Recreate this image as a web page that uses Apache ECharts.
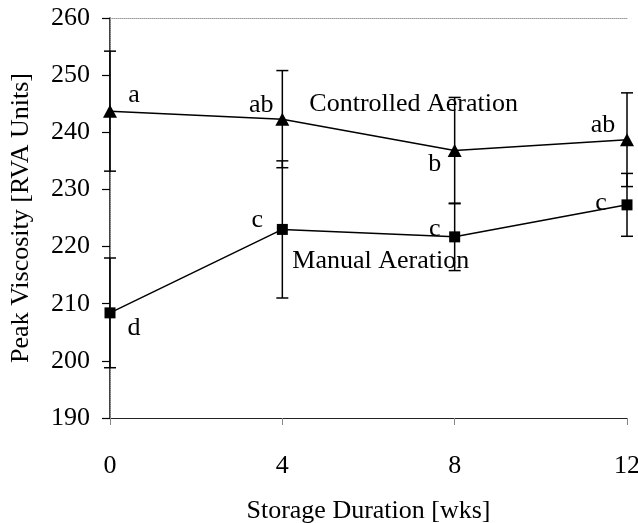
<!DOCTYPE html>
<html>
<head>
<meta charset="utf-8">
<script src="https://cdn.jsdelivr.net/npm/echarts@6/dist/echarts.min.js"></script>
<style>html,body{margin:0;padding:0;background:#fff}#c{width:638px;height:523px}</style>
</head>
<body>
<div id="c"></div>
<script>
// ---- data ----
const weeks = [0, 4, 8, 12];
const controlledMean = [243.7, 242.3, 236.8, 238.7];
const controlledErr = [10.5, 8.5, 9.3, 8.2];
const controlledLetters = ['a', 'ab', 'b', 'ab'];
const manualMean = [208.4, 223.0, 221.7, 227.3];
const manualErr = [9.6, 12.0, 5.9, 5.5];
const manualLetters = ['d', 'c', 'c', 'c'];
const yTicks = [190, 200, 210, 220, 230, 240, 250, 260];
const xTicks = [0, 4, 8, 12];

// ---- styling ----
const FONT = '"Liberation Serif", "Times New Roman", serif';
const FS = 26;
// label offsets [dx, dy] in pixels
const controlledLabelOffsets = [[24, -16], [-21, -14], [-20, 14], [-24, -15]];
const manualLabelOffsets = [[24, 15], [-25, -9], [-20, -8], [-26, -2]];

const chart = echarts.init(document.getElementById('c'), null, {renderer: 'canvas'});

function pairs(xs, ys) { return xs.map((x, i) => [x, ys[i]]); }
function errData(xs, m, e) { return xs.map((x, i) => [x, m[i] - e[i], m[i] + e[i]]); }

function errSeries(data) {
  return {
    type: 'custom',
    data: data,
    z: 3,
    renderItem: function (params, api) {
      const x = api.value(0);
      const lo = api.coord([x, api.value(1)]);
      const hi = api.coord([x, api.value(2)]);
      const hw = 6;
      const style = {stroke: '#000', lineWidth: 1.5};
      return {
        type: 'group',
        children: [
          {type: 'line', shape: {x1: lo[0], y1: lo[1], x2: hi[0], y2: hi[1]}, style: style},
          {type: 'line', shape: {x1: lo[0] - hw, y1: lo[1], x2: lo[0] + hw, y2: lo[1]}, style: style},
          {type: 'line', shape: {x1: hi[0] - hw, y1: hi[1], x2: hi[0] + hw, y2: hi[1]}, style: style}
        ]
      };
    }
  };
}

function letterSeries(xs, ys, letters, offsets) {
  return {
    type: 'scatter',
    symbol: 'circle',
    symbolSize: 0,
    itemStyle: {color: '#000', opacity: 1},
    silent: true,
    z: 5,
    data: xs.map((x, i) => ({
      value: [x, ys[i]],
      label: {
        show: true,
        formatter: letters[i],
        position: 'inside',
        offset: offsets[i],
        color: '#000',
        opacity: 1,
        fontFamily: FONT,
        fontSize: FS
      }
    }))
  };
}

const option = {
  animation: false,
  backgroundColor: '#fff',
  grid: {left: 110, right: 11, top: 18, bottom: 105, show: false, containLabel: false, outerBoundsMode: 'none'},
  xAxis: [{
    type: 'value', min: 0, max: 12, interval: 4,
    name: 'Storage Duration [wks]',
    nameLocation: 'middle', nameGap: 80,
    nameTextStyle: {fontFamily: FONT, fontSize: FS, color: '#000'},
    axisLine: {show: true, lineStyle: {color: '#222', width: 1.2}},
    axisTick: {show: true, inside: false, length: 7, lineStyle: {color: '#888'}},
    axisLabel: {margin: 35, fontFamily: FONT, fontSize: FS, color: '#000',
      formatter: v => xTicks.includes(v) ? String(v) : ''},
    splitLine: {show: false}
  }, {
    type: 'value', min: 0, max: 12, position: 'top',
    axisLine: {show: true, lineStyle: {color: '#999', width: 1, type: 'dotted'}},
    axisTick: {show: false}, axisLabel: {show: false}, splitLine: {show: false}
  }],
  yAxis: [{
    type: 'value', min: 190, max: 260, interval: 10,
    name: 'Peak Viscosity [RVA Units]',
    nameLocation: 'middle', nameGap: 76,
    nameTextStyle: {fontFamily: FONT, fontSize: FS, color: '#000'},
    axisLine: {show: true, lineStyle: {color: '#000', width: 1.5}},
    axisTick: {show: true, inside: false, length: 8, lineStyle: {color: '#000', width: 1.2}},
    axisLabel: {margin: 20, fontFamily: FONT, fontSize: FS, color: '#000',
      formatter: v => yTicks.includes(v) ? String(v) : ''},
    splitLine: {show: false}
  }, {
    type: 'value', min: 190, max: 260, position: 'right',
    axisLine: {show: true, lineStyle: {color: '#999', width: 1, type: 'dotted'}},
    axisTick: {show: false}, axisLabel: {show: false}, splitLine: {show: false}
  }],
  graphic: [],
  series: [
    errSeries(errData(weeks, controlledMean, controlledErr)),
    errSeries(errData(weeks, manualMean, manualErr)),
    {
      name: 'Controlled Aeration', type: 'line', data: pairs(weeks, controlledMean),
      symbol: 'triangle', symbolSize: [14, 13],
      lineStyle: {color: '#000', width: 1.5}, itemStyle: {color: '#000'}, z: 4
    },
    {
      name: 'Manual Aeration', type: 'line', data: pairs(weeks, manualMean),
      symbol: 'rect', symbolSize: 11,
      lineStyle: {color: '#000', width: 1.5}, itemStyle: {color: '#000'}, z: 4
    },
    letterSeries(weeks, controlledMean, controlledLetters, controlledLabelOffsets),
    letterSeries(weeks, manualMean, manualLetters, manualLabelOffsets)
  ]
};
chart.setOption(option);

// Series name annotations placed next to the lines
const cPos = chart.convertToPixel({xAxisIndex: 0, yAxisIndex: 0}, [weeks[1], controlledMean[1]]);
const mPos = chart.convertToPixel({xAxisIndex: 0, yAxisIndex: 0}, [weeks[1], manualMean[1]]);
chart.setOption({
  graphic: [
    {type: 'text', x: cPos[0] + 27, y: cPos[1] - 15, z: 10,
      style: {text: 'Controlled Aeration', font: FS + 'px ' + FONT, fill: '#000', textVerticalAlign: 'middle'}},
    {type: 'text', x: mPos[0] + 10, y: mPos[1] + 32, z: 10,
      style: {text: 'Manual Aeration', font: FS + 'px ' + FONT, fill: '#000', textVerticalAlign: 'middle'}}
  ]
});
</script>
</body>
</html>
